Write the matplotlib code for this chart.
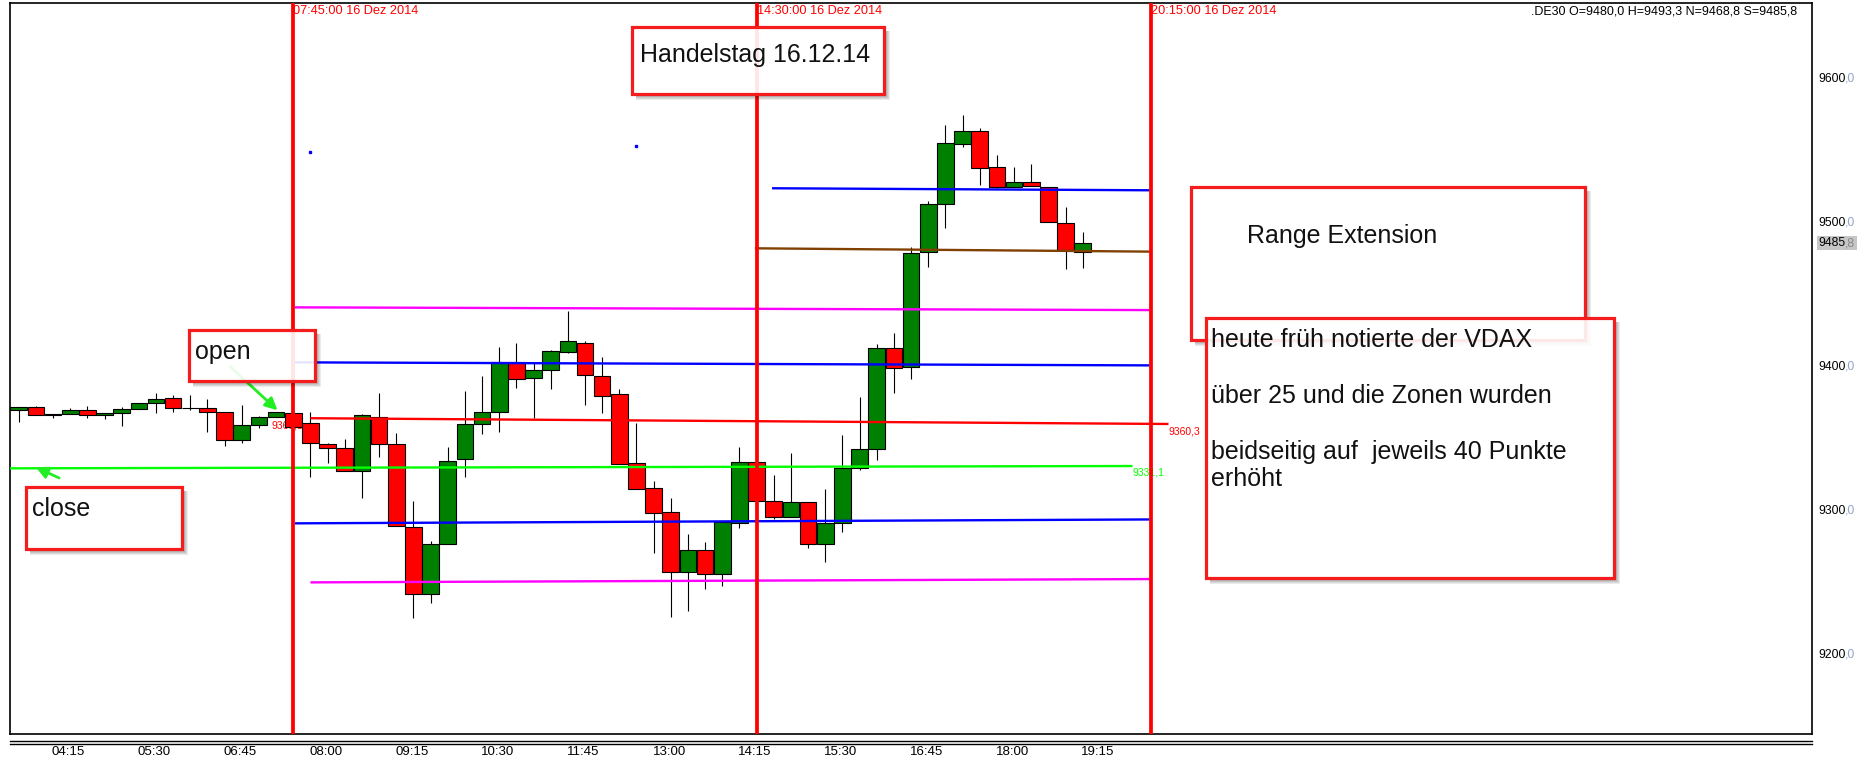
import matplotlib
matplotlib.use("Agg")
import matplotlib.pyplot as plt
import matplotlib.transforms as mtransforms
from matplotlib.patches import Rectangle, FancyArrowPatch
from matplotlib.lines import Line2D

W, H, DPI = 1857, 762, 100
plt.rcParams["font.family"] = ["Liberation Sans", "DejaVu Sans"]

# ── DE30, 15 min candles, 16.12.2014 ─────────────────────────────────
opens  = [9370.0, 9371.9, 9366.5, 9367.0, 9369.8, 9366.3, 9367.7, 9370.7, 9375.0, 9378.1,
          9371.2, 9371.2, 9368.4, 9348.9, 9359.6, 9365.1, 9368.1, 9360.8, 9346.4, 9343.4,
          9327.6, 9364.9, 9346.2, 9289.0, 9242.0, 9276.7, 9335.8, 9360.1, 9368.4, 9403.5,
          9392.0, 9397.6, 9410.5, 9416.3, 9393.4, 9380.9, 9333.4, 9315.6, 9299.0, 9257.5,
          9272.8, 9255.9, 9291.3, 9334.1, 9306.6, 9296.0, 9306.3, 9276.7, 9291.3, 9329.5,
          9342.7, 9412.8, 9399.7, 9479.5, 9512.8, 9554.5, 9564.0, 9538.5, 9524.7, 9528.1,
          9525.1, 9500.1, 9480.0]
highs  = [9372.0, 9372.8, 9367.5, 9371.4, 9372.8, 9368.0, 9371.9, 9375.0, 9381.6, 9380.4,
          9380.4, 9377.6, 9368.4, 9373.5, 9365.8, 9368.4, 9368.4, 9368.4, 9347.3, 9349.9,
          9367.2, 9381.6, 9353.8, 9306.8, 9279.2, 9344.5, 9383.4, 9393.6, 9413.5, 9416.3,
          9403.5, 9411.7, 9438.8, 9417.7, 9406.6, 9384.4, 9360.8, 9320.7, 9308.7, 9283.9,
          9278.1, 9292.4, 9344.5, 9334.1, 9324.9, 9340.4, 9306.3, 9315.1, 9352.6, 9379.2,
          9415.6, 9423.3, 9483.0, 9515.1, 9567.9, 9574.9, 9565.6, 9547.1, 9538.5, 9540.8,
          9525.1, 9510.8, 9493.3]
lows   = [9361.5, 9366.5, 9364.2, 9367.0, 9364.7, 9363.5, 9359.1, 9370.5, 9367.7, 9368.8,
          9370.0, 9354.5, 9345.2, 9346.9, 9357.3, 9365.1, 9358.0, 9323.3, 9333.0, 9327.6,
          9308.7, 9337.2, 9289.4, 9225.3, 9235.8, 9276.7, 9323.3, 9353.1, 9354.9, 9385.1,
          9364.2, 9384.4, 9409.4, 9373.5, 9368.1, 9332.3, 9314.9, 9270.5, 9226.0, 9230.6,
          9245.9, 9248.0, 9288.1, 9306.6, 9294.3, 9296.0, 9274.0, 9264.6, 9285.5, 9328.3,
          9335.3, 9381.6, 9391.3, 9469.5, 9496.6, 9552.8, 9526.3, 9524.0, 9524.7, 9525.3,
          9500.8, 9467.9, 9468.8]
closes = [9371.9, 9366.5, 9367.2, 9369.8, 9366.3, 9367.7, 9370.7, 9374.7, 9377.4, 9371.2,
          9371.6, 9368.4, 9348.9, 9359.6, 9365.1, 9368.4, 9358.0, 9346.9, 9343.4, 9327.6,
          9366.5, 9346.2, 9289.4, 9242.0, 9276.7, 9334.4, 9360.1, 9368.4, 9403.5, 9391.3,
          9397.6, 9411.0, 9417.7, 9394.1, 9379.5, 9332.3, 9314.9, 9298.3, 9257.5, 9272.8,
          9255.9, 9292.4, 9334.1, 9306.6, 9295.5, 9306.3, 9276.7, 9291.3, 9329.5, 9342.7,
          9412.8, 9398.9, 9478.8, 9512.8, 9555.2, 9564.0, 9537.8, 9525.1, 9528.1, 9525.3,
          9500.8, 9481.1, 9485.8]

time_labels = ["04:15", "05:30", "06:45", "08:00", "09:15", "10:30", "11:45",
               "13:00", "14:15", "15:30", "16:45", "18:00", "19:15"]
price_ticks = [9200, 9300, 9400, 9500, 9600]

session_idx    = [16, 43, 66]
session_labels = ["07:45:00 16 Dez 2014", "14:30:00 16 Dez 2014", "20:15:00 16 Dez 2014"]

# zone lines (start/end candle index, start/end price)
level_colors = ["#ff00ff", "#0000ff", "#ff0000", "#00ff00", "#0000ff", "#ff00ff", "#0000ff", "#804000"]
level_x0 = [16.1, 16.1, 17.0, -0.5, 16.1, 17.0, 43.9, 42.9]
level_x1 = [65.9, 65.9, 67.0, 64.9, 65.9, 65.9, 65.9, 65.9]
level_p0 = [9441.3, 9403.1, 9364.3, 9329.5, 9291.3, 9250.3, 9524.0, 9482.3]
level_p1 = [9439.4, 9401.0, 9360.3, 9331.1, 9294.0, 9252.6, 9522.6, 9480.0]

dot_x = [17.0, 36.0]
dot_p = [9549.4, 9553.5]

last_price = 9485.8
header = ".DE30 O=9480,0 H=9493,3 N=9468,8 S=9485,8"

# ── figure ────────────────────────────────────────────────────────────
fig = plt.figure(figsize=(W / DPI, H / DPI), dpi=DPI, facecolor="white")
ax = fig.add_axes([10 / W, 1 - 734 / H, 1802 / W, 731.2 / H])
ax.set_xlim(-0.507, 104.5)
ax.set_ylim(9145.0, 9652.8)
ax.set_yticks([])
ax.set_xticks([])
for s in ax.spines.values():
    s.set_linewidth(1.2)
    s.set_color("black")

# pixel transform (x right, y down from top-left of the image)
pix = mtransforms.Affine2D().scale(1 / W, -1 / H).translate(0, 1) + fig.transFigure
x_data_y_pix = mtransforms.blended_transform_factory(ax.transData, pix)
x_pix_y_data = mtransforms.blended_transform_factory(pix, ax.transData)

# candles
xs = list(range(len(opens)))
bottoms = [min(o, c) for o, c in zip(opens, closes)]
heights = [max(abs(c - o), 0.4) for o, c in zip(opens, closes)]
cols = ["#008000" if c >= o else "#ff0000" for o, c in zip(opens, closes)]
ax.vlines(xs, lows, highs, color="black", linewidth=0.8, zorder=2)
ax.bar(xs, heights, bottom=bottoms, width=0.97, color=cols,
       edgecolor="black", linewidth=0.8, zorder=3)

# zone lines
for x0, x1, p0, p1, c in zip(level_x0, level_x1, level_p0, level_p1, level_colors):
    ax.plot([x0, x1], [p0, p1], color=c, linewidth=1.7, zorder=4, solid_capstyle="butt")

ax.text(67.0, 9355.4, "9360,3", color="#ff0000", fontsize=7.5, va="center", ha="left", zorder=5)
ax.text(64.9, 9326.6, "9331,1", color="#00ff00", fontsize=7.5, va="center", ha="left", zorder=5)
ax.text(14.76, 9358.9, "9360,3", color="#ff0000", fontsize=7.5, va="center", ha="left", zorder=1)

ax.plot(dot_x, dot_p, "s", color="#0000ff", markersize=1.6, zorder=4)

# session lines
for xi, lab in zip(session_idx, session_labels):
    ax.axvline(xi, color="#ff0000", linewidth=2.7, zorder=6)
    ax.text(xi, 11, lab, transform=x_data_y_pix, color="#ff0000", fontsize=9.2,
            va="center", ha="left")

ax.text(1797, 11, header, transform=pix, fontsize=9, ha="right", va="center", color="black")

# time axis
for k, lab in enumerate(time_labels):
    ax.text(2.9 + 5 * k, 752, lab, transform=x_data_y_pix, fontsize=9.5,
            ha="center", va="center", color="black")
for yy in (740.5, 744.2):
    fig.add_artist(Line2D([10 / W, 1812 / W], [1 - yy / H, 1 - yy / H],
                          color="black", linewidth=1.0, transform=fig.transFigure))

# price axis
for p in price_ticks:
    ax.text(1818, p, f"{p}", transform=x_pix_y_data, fontsize=8.7, ha="left", va="center")
    ax.annotate(",0", xy=(1818, p), xycoords=x_pix_y_data, xytext=(26.9, 0),
                textcoords="offset pixels", fontsize=8.7, ha="left", va="center", color="#8fa6c4")

# last price marker with grey background
ax.add_patch(Rectangle((1817, last_price - 4.9), 40, 9.8, transform=x_pix_y_data,
                       facecolor="#c6c6c6", edgecolor="none", clip_on=False, zorder=5))
ax.text(1818, last_price, "9485", transform=x_pix_y_data, fontsize=8.7, ha="left",
        va="center", zorder=6)
ax.annotate(",8", xy=(1818, last_price), xycoords=x_pix_y_data, xytext=(26.9, 0),
            textcoords="offset pixels", fontsize=8.7, ha="left", va="center",
            color="#888888", zorder=6)


# ── annotation boxes ─────────────────────────────────────────────────
def note_box(x0, y0, x1, y1, z=10):
    # soft shadow on the right and bottom edges only
    for k in range(1, 6):
        fig.add_artist(Rectangle((x1, y0 + 4), k + 1, y1 - y0 + k - 3, transform=pix,
                                 facecolor="black", edgecolor="none", alpha=0.08, zorder=z))
        fig.add_artist(Rectangle((x0 + 4, y1), x1 - x0 - 4, k + 1, transform=pix,
                                 facecolor="black", edgecolor="none", alpha=0.08, zorder=z))
    fig.add_artist(Rectangle((x0, y0), x1 - x0, y1 - y0, transform=pix,
                             facecolor=(1, 1, 1, 0.9), edgecolor="#f41c1c",
                             linewidth=2.3, zorder=z + 0.1))


def note_text(x, y, s, z=10):
    fig.text(x, y, s, transform=pix, fontsize=18, ha="left", va="center",
             color="#111111", zorder=z + 0.2)


note_box(632, 27, 884, 94)
note_text(640, 55, "Handelstag 16.12.14")

note_box(189, 330, 315, 381)
note_text(195, 352, "open")

note_box(26, 487, 182, 549)
note_text(32, 509, "close")

note_box(1191, 187, 1585, 340)
note_text(1247, 236, "Range Extension")

note_box(1206, 318, 1614, 578, z=12)
box_lines = ["heute früh notierte der VDAX", "", "über 25 und die Zonen wurden", "",
             "beidseitig auf  jeweils 40 Punkte", "erhöht"]
for k, s in enumerate(box_lines):
    if s:
        note_text(1211, 340 + 27.9 * k, s, z=12)

# green arrows
for tail, head in [((12.2, 9401.5), (15.2, 9368.5)), ((2.5, 9322.0), (0.85, 9331.1))]:
    ax.add_patch(FancyArrowPatch(tail, head, arrowstyle="-|>", mutation_scale=18,
                                 color="#22ee22", linewidth=2.0, zorder=7))

fig.savefig("out.png", dpi=DPI, facecolor="white")
